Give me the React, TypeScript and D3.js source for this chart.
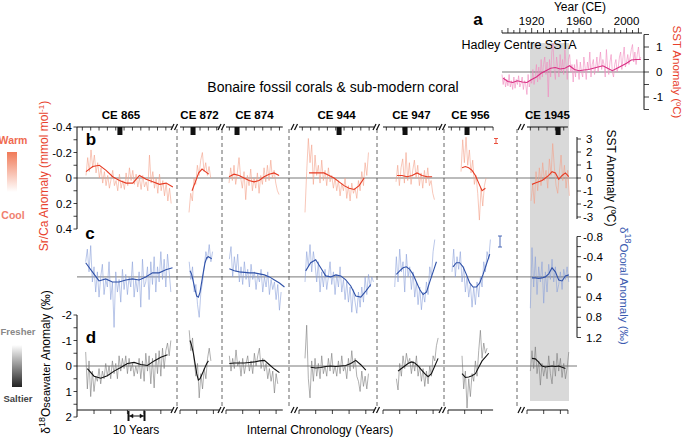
import React from "react";
import * as d3 from "d3";

// ---------------- DATA ----------------
const SEGMENTS = ["CE 865", "CE 872", "CE 874", "CE 944", "CE 947", "CE 956", "CE 1945"];
const SEG_LEN = [55.7, 23.4, 34, 45, 34, 27, 24.5]; // years of internal chronology axis
const SEG_MARK = [24.5, 7.8, 6.6, 24, 13.2, 11.4, 18.6]; // dated sample position (years)

// Sr/Ca anomaly (mmol/mol), raw (1 value / year) and smoothed
const SRCA_RAW_START = [4.2, 5.4, 1.8, 3.6, 7.8, 7.8, 2.4];
const SRCA_RAW = [
  [-0.02,-0.16,-0.05,-0.22,-0.08,-0.18,-0.04,-0.12,0.0,-0.08,0.04,-0.05,0.06,-0.02,0.08,0.01,-0.06,0.06,0.02,0.1,-0.03,0.08,0.02,0.09,-0.04,0.06,-0.08,0.02,-0.06,0.05,-0.03,0.07,0.0,0.09,-0.02,0.07,0.03,0.1,-0.18,0.04,-0.05,0.08,0.0,0.12,-0.03,0.1,0.02,0.14,0.04,0.18,0.08,0.2],
  [0.27,0.12,0.18,0.0,0.05,-0.1,-0.02,-0.14,-0.2,-0.05,-0.12,-0.02,-0.09,0.0],
  [0.04,-0.08,0.02,-0.1,0.05,-0.04,-0.16,0.0,0.08,-0.05,0.17,-0.02,0.06,-0.07,0.1,0.0,0.08,-0.04,0.12,-0.02,0.05,-0.08,0.03,-0.1,0.02,-0.14,0.0,-0.06,0.04,0.1,0.13],
  [0.27,-0.05,-0.31,-0.12,-0.26,0.05,-0.18,-0.02,-0.1,0.04,-0.14,0.02,-0.06,0.06,-0.08,0.03,-0.02,0.08,0.0,0.1,0.02,0.14,0.04,0.1,0.0,0.16,0.06,0.18,0.04,0.12,0.08,0.16,0.02,0.1,-0.05,0.06,-0.12,-0.02,-0.2],
  [0.03,-0.1,0.06,-0.08,-0.15,0.04,-0.2,0.02,-0.12,0.05,-0.06,-0.14,0.0,-0.1,0.06,-0.04,0.08,-0.06,0.04,-0.08,0.06,0.02,0.12,0.17],
  [-0.05,-0.3,-0.12,-0.32,-0.1,-0.22,-0.04,-0.14,0.05,-0.02,0.12,0.33,0.08,0.22,0.06,0.0],
  [0.18,0.05,0.2,-0.05,0.1,-0.08,0.06,-0.12,0.02,-0.06,0.08,-0.15,-0.02,-0.27,-0.08,0.06,0.12,-0.04,-0.18,0.02,-0.1,0.08,-0.06,0.14],
];
const SRCA_SM_START = [4.2, 7.2, 1.8, 6, 8.4, 8.4, 3];
const SRCA_SM_STEP = [4, 2, 3, 3, 3, 2, 2];
const SRCA_SM = [
  [-0.05,-0.09,-0.1,-0.06,-0.01,0.02,0.04,0.04,-0.02,0.01,0.03,0.05,0.04,0.07],
  [0.1,0.03,-0.04,-0.07,-0.05,-0.03],
  [-0.01,-0.03,-0.02,0.0,0.02,0.03,0.02,-0.01,-0.03,-0.04,-0.02],
  [-0.04,-0.04,-0.04,-0.04,-0.02,0.0,0.03,0.06,0.08,0.09,0.06,0.0],
  [-0.02,-0.02,-0.01,-0.02,-0.04,-0.02,-0.01,-0.01],
  [-0.08,-0.09,-0.08,-0.06,-0.02,0.04,0.1,0.08],
  [0.05,0.04,0.03,0.02,0.0,-0.02,-0.05,-0.04,0.01,-0.02,-0.04,-0.01],
];

// Coral d18O anomaly (permil)
const CORAL_RAW_START = [4, 5.5, 2, 3.6, 7, 2.4, 2];
const CORAL_RAW = [
  [-0.3,-0.55,-0.1,-0.62,0.1,-0.2,0.3,-0.1,0.4,0.0,-0.25,0.35,0.05,0.2,-0.3,0.45,0.1,1.0,-0.1,0.3,0.05,0.5,-0.15,0.25,-0.05,0.35,0.0,0.2,-0.3,0.4,0.05,0.3,-0.1,0.6,-0.35,0.2,0.1,-0.2,0.45,-0.3,0.15,-0.4,0.3,-0.2,0.1,-0.5,0.05,-0.35,0.2,-0.45,-0.1,0.3],
  [-0.3,0.05,-0.2,0.3,0.15,0.55,0.8,0.3,0.1,-0.2,-0.5,-0.35,-0.64,-0.3,-0.5],
  [-0.35,-0.6,0.0,-0.4,-0.1,-0.45,0.1,-0.2,0.15,-0.3,0.05,-0.15,0.2,-0.25,0.05,-0.1,0.25,-0.05,0.1,-0.15,0.3,0.0,0.2,-0.1,0.35,0.05,0.25,0.1,0.45,0.15,0.66,0.3],
  [0.1,-0.5,-0.2,-0.64,-0.1,-0.5,-0.25,0.1,-0.3,0.3,-0.1,0.2,-0.15,0.25,0.0,-0.3,0.15,-0.1,0.35,-0.05,0.2,-0.2,0.3,0.05,0.45,0.1,0.5,0.2,0.7,0.25,0.5,0.72,0.3,0.6,0.2,0.5,0.0,0.35,-0.05,0.2,0.0,0.1],
  [0.2,-0.4,0.1,-0.55,-0.1,-0.3,0.3,-0.45,0.0,-0.2,0.25,-0.1,0.4,0.1,0.55,0.2,0.65,0.3,0.5,0.1,0.35,-0.2,0.0,-0.5,-0.74],
  [-0.1,-0.55,0.0,-0.4,-0.15,-0.5,0.1,-0.2,0.3,0.0,0.4,0.15,0.6,0.2,0.55,0.1,0.4,0.0,0.2,-0.3,-0.1,-0.5,-0.35,-0.74],
  [0.62,-0.58,0.2,-0.4,0.35,-0.2,0.1,-0.3,0.52,-0.1,0.3,-0.25,0.05,-0.35,0.1,-0.2,0.3,0.15,-0.1,0.25,-0.15,0.05,-0.2,0.1],
];
const CORAL_SM_START = [4, 6, 2, 4, 8, 3, 3];
const CORAL_SM_STEP = [4, 1, 3, 3, 2, 2, 2];
const CORAL_SM = [
  [-0.28,-0.1,0.08,0.04,0.1,0.1,0.06,0.04,0.06,0.0,-0.08,-0.08,-0.14,-0.18],
  [-0.12,-0.05,0.1,0.25,0.38,0.4,0.3,0.1,-0.1,-0.28,-0.38,-0.4,-0.38,-0.36],
  [-0.16,-0.12,-0.1,-0.09,-0.08,-0.08,-0.06,-0.04,0.0,0.06,0.12,0.2],
  [-0.12,-0.28,-0.34,-0.18,-0.02,0.0,-0.04,-0.02,0.06,0.18,0.38,0.4,0.28,0.15],
  [-0.05,-0.12,-0.18,-0.2,-0.15,-0.05,0.1,0.25,0.35,0.3,0.1,-0.1,-0.3],
  [-0.2,-0.28,-0.28,-0.2,-0.05,0.12,0.2,0.2,0.12,-0.05,-0.25,-0.45],
  [0.02,0.02,0.03,0.02,0.0,-0.06,-0.18,-0.1,0.06,0.08,-0.02,-0.04],
];

// Seawater d18O anomaly (permil)
const SW_RAW_START = [4, 5.5, 2, 3.6, 8, 8.4, 2];
const SW_RAW = [
  [-0.55,0.9,-0.2,1.2,0.2,1.0,0.4,0.6,0.1,0.7,0.2,0.5,-0.1,0.4,0.0,0.5,-0.2,0.3,-0.1,0.5,-0.4,0.2,-0.3,0.1,-0.4,0.3,-0.3,0.2,-0.1,0.4,0.0,0.3,-0.3,0.5,-0.2,0.6,-0.5,0.2,-0.4,0.7,-0.3,0.86,-0.5,0.3,-0.6,0.4,-0.7,0.1,-0.6,-0.9,-0.4,-1.0],
  [-1.4,-0.6,-1.1,-0.2,0.4,-0.1,1.25,0.3,0.9,0.1,0.5,-0.3,-0.7,-0.2],
  [-0.4,0.2,-0.3,0.1,-0.63,0.0,-0.2,0.4,-0.3,0.3,-0.1,-0.4,0.2,-0.2,0.3,-0.5,0.0,-0.4,-0.7,0.1,-0.3,0.2,-0.1,0.5,0.1,0.6,0.2,1.06,0.3,0.7],
  [-0.3,-1.6,0.5,1.25,-0.2,0.6,-0.3,0.4,-0.1,0.5,-0.4,0.3,0.0,0.4,-0.3,0.2,-0.5,0.3,0.0,0.4,-0.2,0.3,-0.4,0.2,0.0,0.5,-0.3,0.2,-0.6,0.1,-0.3,0.4,0.6,1.0,0.2,0.8,0.4,0.9,0.3],
  [0.5,0.94,-0.1,0.4,-0.4,0.1,-0.5,-0.1,-0.3,0.3,-0.2,0.2,-0.4,0.4,0.0,0.6,0.1,0.8,0.2,0.7,0.0,0.4,-0.4,-0.2,-0.8,-1.1],
  [-0.4,0.9,0.2,1.65,0.5,1.2,0.3,0.6,-0.2,0.4,-0.6,-1.4,-0.3,-0.9,-0.5,-0.7],
  [0.2,-0.6,0.1,-0.75,0.3,-0.2,0.75,-0.1,0.4,0.0,0.5,-0.4,0.3,0.7,-0.2,0.4,-0.5,0.2,-0.3,0.45,-0.1,0.5,0.1,-0.55],
];
const SW_SM_START = [5, 6, 2, 7, 9, 8.4, 3];
const SW_SM_STEP = [4, 1, 3, 3, 2, 2, 2];
const SW_SM = [
  [0.1,0.4,0.48,0.38,0.2,0.06,-0.1,-0.14,-0.06,-0.02,-0.2,-0.34,-0.44],
  [-1.0,-0.8,-0.5,-0.1,0.3,0.55,0.5,0.35,0.2,0.05,-0.1,-0.2],
  [-0.1,-0.12,-0.12,-0.12,-0.14,-0.16,-0.2,-0.22,-0.05,0.12,0.26],
  [0.05,0.08,0.06,0.02,0.0,0.02,0.0,-0.02,-0.1,-0.22,-0.05,0.16],
  [0.2,0.1,0.0,-0.1,-0.16,-0.12,0.0,0.15,0.3,0.42,0.3,0.0,-0.3],
  [0.3,0.45,0.43,0.38,0.3,0.05,-0.2,-0.35,-0.5],
  [-0.3,-0.28,-0.15,0.0,0.04,0.02,0.0,0.02,0.0,0.05,0.1],
];

// Hadley Centre SSTA (degC)
const HAD_START = 1895;
const HAD_RAW = [
  -0.1,-0.5,-0.2,-0.6,-0.3,-0.55,-0.1,-0.6,-0.35,-0.7,
  -0.2,-0.65,-0.3,-0.5,-0.15,-0.6,-0.45,-0.2,-0.7,-0.35,
  -0.5,-0.9,-0.1,-0.6,-0.3,-0.45,0.1,-0.5,-0.2,0.3,
  -0.4,0.2,-0.3,0.5,-0.2,0.3,0.6,-0.1,0.4,-1.0,
  0.5,-0.2,0.8,1.15,0.1,-0.3,0.6,0.2,-0.2,0.7,
  0.0,0.5,-0.1,0.9,0.3,-0.3,0.5,0.7,0.0,0.3,
  -0.4,0.3,-0.2,0.5,0.1,-0.3,0.4,0.0,-0.2,0.6,
  0.2,-0.3,0.4,0.1,0.8,-0.2,0.3,0.5,-0.1,0.2,
  0.6,0.0,0.4,0.8,0.1,0.5,0.3,-0.2,0.9,0.2,
  -0.1,0.4,0.7,0.0,-0.2,0.3,0.5,0.0,0.2,0.6,
  0.8,0.1,0.6,1.0,0.2,0.4,0.7,0.3,0.6,0.9,
  1.1,0.4,0.8,0.3,0.7,1.0,0.5,0.6,
];
const HAD_SM_START = 1896;
const HAD_SM_STEP = 4;
const HAD_SM = [-0.25,-0.38,-0.42,-0.35,-0.4,-0.42,-0.3,-0.2,-0.05,0.05,0.15,0.18,0.12,0.15,0.25,0.1,0.05,0.08,0.1,0.15,0.2,0.25,0.15,0.05,0.15,0.25,0.35,0.48,0.5,0.5];
const HAD_YEAR_LABELS = [1920, 1960, 2000];

const SRCA_TICKS = [-0.4,-0.3,-0.2,-0.1,0,0.1,0.2,0.3,0.4];
const SST_TICKS = [-3,-2,-1,0,1,2,3];
const CORAL_TICKS = [-0.8,-0.6,-0.4,-0.2,0,0.2,0.4,0.6,0.8,1.0,1.2];
const SW_TICKS = [-2,-1.5,-1,-0.5,0,0.5,1,1.5,2];
const HAD_TICKS = [-1.5,-1,-0.5,0,0.5,1,1.5];

// ---------------- LAYOUT ----------------
const W = 685, H = 437;
const FONT = "'Liberation Sans', Arial, Helvetica, sans-serif";
const K = 1.67;
const SEG_X = [79, 180, 226, 299, 383, 448, 527];
const BREAKS = [175, 222, 295, 377, 443, 522];
const DASHES = [177, 222, 289, 377, 444, 517];
const TOP_Y = 127, BOT_Y = 410;
const LEFT_X = 77, RIGHT_X = 577;

const ySr = d3.scaleLinear().domain([-0.4, 0.4]).range([127, 229]);
const ySST = d3.scaleLinear().domain([-3, 3]).range([217, 139]);
const yCoral = d3.scaleLinear().domain([-0.8, 1.2]).range([236.5, 337.5]);
const ySw = d3.scaleLinear().domain([-2, 2]).range([315, 417]);
const xH = d3.scaleLinear().domain([1895, 2013]).range([502, 642]);
const yH = d3.scaleLinear().domain([-1.5, 1.5]).range([109.5, 34.5]);

const xSeg = (i: number) =>
  d3.scaleLinear().domain([0, SEG_LEN[i]]).range([SEG_X[i], SEG_X[i] + SEG_LEN[i] * K]);

function path(i: number, start: number, step: number, vals: number[], y: d3.ScaleLinear<number, number>) {
  const x = xSeg(i);
  return d3.line<number>().x((_, j) => x(start + j * step)).y((v) => y(v))(vals) || "";
}

const fmt = (v: number) => (Math.abs(v) < 1e-9 ? "0" : String(Math.round(v * 10) / 10));

function Brk({ x, y }: { x: number; y: number }) {
  return (
    <g stroke="#111" strokeWidth={1.3}>
      <line x1={x - 4} y1={y + 3} x2={x - 1} y2={y - 3} />
      <line x1={x - 0.5} y1={y + 3} x2={x + 2.5} y2={y - 3} />
    </g>
  );
}

function Panel({ raw, rawStart, sm, smStart, smStep, y, rawColor, smColor }: any) {
  return (
    <g fill="none">
      {raw.map((vals: number[], i: number) => (
        <path key={"r" + i} d={path(i, rawStart[i], 1, vals, y)} stroke={rawColor} strokeWidth={0.7} strokeOpacity={0.85} />
      ))}
      {sm.map((vals: number[], i: number) => (
        <path key={"s" + i} d={path(i, smStart[i], smStep[i], vals, y)} stroke={smColor} strokeWidth={1.1} />
      ))}
    </g>
  );
}

export default function App() {
  const hadRawPath = d3.line<number>().x((_, j) => xH(HAD_START + j)).y((v) => yH(v))(HAD_RAW) || "";
  const hadSmPath = d3.line<number>().x((_, j) => xH(HAD_SM_START + j * HAD_SM_STEP)).y((v) => yH(v))(HAD_SM) || "";
  const hadTicks = d3.range(1895, 2014, 5);

  return (
    <div style={{ position: "absolute", left: 0, top: 0 }}>
      <svg width={W} height={H} style={{ display: "block", fontFamily: FONT }}>
        <defs>
          <linearGradient id="warm" x1="0" y1="0" x2="0" y2="1">
            <stop offset="0" stopColor="#f07a58" />
            <stop offset="1" stopColor="#ffffff" />
          </linearGradient>
          <linearGradient id="salt" x1="0" y1="0" x2="0" y2="1">
            <stop offset="0" stopColor="#ffffff" />
            <stop offset="1" stopColor="#222" />
          </linearGradient>
        </defs>
        <rect width={W} height={H} fill="#fff" />
        {/* gray shading for modern period */}
        <rect x={530} y={43} width={39} height={358} fill="#d9d9d9" />

        {/* ---------- Panel a: Hadley ---------- */}
        <text x={580} y={11} fontSize={12} textAnchor="middle">Year (CE)</text>
        <text x={478} y={25} fontSize={17} fontWeight="bold" textAnchor="middle">a</text>
        {HAD_YEAR_LABELS.map((yr) => (
          <text key={yr} x={xH(yr)} y={25} fontSize={11.5} textAnchor="middle">{yr}</text>
        ))}
        <line x1={xH(1895)} x2={xH(2013)} y1={33} y2={33} stroke="#111" strokeWidth={1} />
        {hadTicks.map((t) => (
          <line key={t} x1={xH(t)} x2={xH(t)} y1={33} y2={t % 10 === 0 ? 28 : 30} stroke="#111" strokeWidth={0.8} />
        ))}
        <text x={519} y={49} fontSize={12.5} textAnchor="middle">Hadley Centre SSTA</text>
        <line x1={502} x2={644} y1={yH(0)} y2={yH(0)} stroke="#555" strokeWidth={0.8} />
        <path d={hadRawPath} fill="none" stroke="#f08cc0" strokeWidth={0.7} strokeOpacity={0.9} />
        <path d={hadSmPath} fill="none" stroke="#d92e83" strokeWidth={1.1} />
        <line x1={644} x2={644} y1={yH(1.5)} y2={yH(-1.5)} stroke="#111" strokeWidth={1} />
        {HAD_TICKS.map((t) => (
          <g key={t}>
            <line x1={644} x2={649} y1={yH(t)} y2={yH(t)} stroke="#111" strokeWidth={0.8} />
            {Number.isInteger(t) && (
              <text x={t < 0 ? 653 : 656} y={yH(t) + 4} fontSize={11.5}>{fmt(t)}</text>
            )}
          </g>
        ))}
        <text transform={`translate(673,72) rotate(90)`} fontSize={11.5} fill="#e8412c" textAnchor="middle">SST Anomaly (ºC)</text>

        {/* ---------- Title & segment labels ---------- */}
        <text x={333} y={92} fontSize={14} textAnchor="middle">Bonaire fossil corals &amp; sub-modern coral</text>
        {SEGMENTS.map((s, i) => {
          const x = xSeg(i);
          const cx = i === 0 ? 121 : (x(0) + x(SEG_LEN[i])) / 2;
          return (
            <text key={s} x={cx} y={119} fontSize={11.5} fontWeight="bold" textAnchor="middle">{s}</text>
          );
        })}

        {/* dashed separators */}
        {DASHES.map((x) => (
          <line key={x} x1={x} x2={x} y1={TOP_Y + 2} y2={BOT_Y - 2} stroke="#555" strokeWidth={0.9} strokeDasharray="4,3" />
        ))}

        {/* top axes */}
        {SEGMENTS.map((s, i) => {
          const x = xSeg(i);
          const ticks = d3.range(2, SEG_LEN[i] + 0.01, 5);
          return (
            <g key={"top" + s}>
              <line x1={i === 0 ? LEFT_X : x(0)} x2={x(SEG_LEN[i])} y1={TOP_Y} y2={TOP_Y} stroke="#111" strokeWidth={1} />
              {ticks.map((t) => (
                <line key={t} x1={x(t)} x2={x(t)} y1={TOP_Y} y2={TOP_Y + 3.5} stroke="#111" strokeWidth={0.8} />
              ))}
              <rect x={x(SEG_MARK[i]) - 2.5} y={TOP_Y} width={5} height={8} fill="#111" />
            </g>
          );
        })}
        {BREAKS.map((x) => <Brk key={"bt" + x} x={x} y={TOP_Y} />)}

        {/* bottom axes */}
        {SEGMENTS.map((s, i) => {
          const x = xSeg(i);
          const ticks = d3.range(i === 0 ? 9 : 0, SEG_LEN[i] + 0.01, 10);
          return (
            <g key={"bot" + s}>
              <line x1={i === 0 ? LEFT_X : x(0)} x2={x(SEG_LEN[i])} y1={BOT_Y} y2={BOT_Y} stroke="#111" strokeWidth={1} />
              {ticks.map((t) => (
                <line key={t} x1={x(t)} x2={x(t)} y1={BOT_Y} y2={BOT_Y + 4} stroke="#111" strokeWidth={0.8} />
              ))}
              {i === SEGMENTS.length - 1 && (
                <line x1={x(SEG_LEN[i])} x2={x(SEG_LEN[i])} y1={BOT_Y} y2={BOT_Y + 4} stroke="#111" strokeWidth={0.8} />
              )}
            </g>
          );
        })}
        {BREAKS.map((x) => <Brk key={"bb" + x} x={x} y={BOT_Y} />)}

        {/* zero lines */}
        <line x1={LEFT_X} x2={RIGHT_X} y1={ySr(0)} y2={ySr(0)} stroke="#555" strokeWidth={0.8} />
        <line x1={LEFT_X} x2={RIGHT_X} y1={yCoral(0)} y2={yCoral(0)} stroke="#555" strokeWidth={0.8} />
        <line x1={LEFT_X} x2={RIGHT_X} y1={ySw(0)} y2={ySw(0)} stroke="#555" strokeWidth={0.8} />

        {/* series */}
        <Panel raw={SRCA_RAW} rawStart={SRCA_RAW_START} sm={SRCA_SM} smStart={SRCA_SM_START} smStep={SRCA_SM_STEP} y={ySr} rawColor="#f4a088" smColor="#e63a22" />
        <Panel raw={CORAL_RAW} rawStart={CORAL_RAW_START} sm={CORAL_SM} smStart={CORAL_SM_START} smStep={CORAL_SM_STEP} y={yCoral} rawColor="#8aa0da" smColor="#2f51a8" />
        <Panel raw={SW_RAW} rawStart={SW_RAW_START} sm={SW_SM} smStart={SW_SM_START} smStep={SW_SM_STEP} y={ySw} rawColor="#7a7a7a" smColor="#111" />

        {/* error bars */}
        <g stroke="#e8412c" strokeWidth={0.9}>
          <line x1={496} x2={496} y1={138.5} y2={143.5} />
          <line x1={494} x2={498} y1={138.5} y2={138.5} />
          <line x1={494} x2={498} y1={143.5} y2={143.5} />
        </g>
        <g stroke="#3b5bb0" strokeWidth={0.9}>
          <line x1={500} x2={500} y1={236} y2={247} />
          <line x1={498} x2={502} y1={236} y2={236} />
          <line x1={498} x2={502} y1={247} y2={247} />
        </g>

        {/* left axis b */}
        <line x1={LEFT_X} x2={LEFT_X} y1={ySr(-0.4)} y2={ySr(0.4)} stroke="#111" strokeWidth={1} />
        {SRCA_TICKS.map((t) => (
          <g key={"sr" + t}>
            <line x1={LEFT_X - 3.5} x2={LEFT_X} y1={ySr(t)} y2={ySr(t)} stroke="#111" strokeWidth={0.8} />
            {Math.round(t * 10) % 2 === 0 && (
              <text x={LEFT_X - 5} y={ySr(t) + 4} fontSize={11.5} textAnchor="end">{fmt(t)}</text>
            )}
          </g>
        ))}
        {/* left axis d */}
        <line x1={LEFT_X} x2={LEFT_X} y1={ySw(-2)} y2={ySw(2)} stroke="#111" strokeWidth={1} />
        {SW_TICKS.map((t) => (
          <g key={"sw" + t}>
            <line x1={LEFT_X - 3.5} x2={LEFT_X} y1={ySw(t)} y2={ySw(t)} stroke="#111" strokeWidth={0.8} />
            {Number.isInteger(t) && (
              <text x={LEFT_X - 5} y={ySw(t) + 4} fontSize={11.5} textAnchor="end">{fmt(t)}</text>
            )}
          </g>
        ))}
        {/* right axis SST */}
        <line x1={RIGHT_X} x2={RIGHT_X} y1={ySST(3) - 2} y2={ySST(-3) + 2} stroke="#111" strokeWidth={1} />
        {SST_TICKS.map((t) => (
          <g key={"sst" + t}>
            <line x1={RIGHT_X} x2={RIGHT_X + 4} y1={ySST(t)} y2={ySST(t)} stroke="#111" strokeWidth={0.8} />
            <text x={t < 0 ? RIGHT_X + 6 : RIGHT_X + 9} y={ySST(t) + 4} fontSize={11.5}>{fmt(t)}</text>
          </g>
        ))}
        {/* right axis coral */}
        <line x1={RIGHT_X} x2={RIGHT_X} y1={yCoral(-0.8)} y2={yCoral(1.2)} stroke="#111" strokeWidth={1} />
        {CORAL_TICKS.map((t) => {
          const lab = Math.round(t * 10) % 4 === 0;
          return (
            <g key={"co" + t}>
              <line x1={RIGHT_X} x2={RIGHT_X + 4} y1={yCoral(t)} y2={yCoral(t)} stroke="#111" strokeWidth={0.8} />
              {lab && (
                <text x={t < 0 ? RIGHT_X + 6 : RIGHT_X + 9} y={yCoral(t) + 4} fontSize={11.5}>{fmt(t)}</text>
              )}
            </g>
          );
        })}

        {/* panel letters */}
        <text x={91} y={145} fontSize={17} fontWeight="bold" textAnchor="middle">b</text>
        <text x={90} y={239} fontSize={17} fontWeight="bold" textAnchor="middle">c</text>
        <text x={91} y={343} fontSize={17} fontWeight="bold" textAnchor="middle">d</text>

        {/* axis titles */}
        <text transform="translate(48,176) rotate(-90)" fontSize={12} fill="#e8412c" textAnchor="middle">
          Sr/Ca Anomaly (mmol mol<tspan dy={-4} fontSize={8}>-1</tspan><tspan dy={4}>)</tspan>
        </text>
        <text transform="translate(607,178) rotate(90)" fontSize={12} textAnchor="middle">SST Anomaly (ºC)</text>
        <text transform="translate(620,286) rotate(90)" fontSize={11.5} fill="#3b5bb0" textAnchor="middle">
          δ<tspan dy={-5} fontSize={9}>18</tspan><tspan dy={5}>O</tspan><tspan fontSize={10.5}>coral</tspan> Anomaly (‰)
        </text>
        <text transform="translate(50,362) rotate(-90)" fontSize={12} textAnchor="middle">
          δ<tspan dy={-5} fontSize={9}>18</tspan><tspan dy={5}>O</tspan><tspan fontSize={11}>seawater</tspan> Anomaly (‰)
        </text>

        {/* warm/cool legend */}
        <text x={13} y={144} fontSize={10.5} fontWeight="bold" fill="#ef6a50" textAnchor="middle">Warm</text>
        <rect x={7} y={152} width={10} height={40} fill="url(#warm)" />
        <text x={13} y={219} fontSize={10.5} fontWeight="bold" fill="#f08070" textAnchor="middle">Cool</text>
        {/* fresher/saltier legend */}
        <text x={18} y={335} fontSize={9.5} fontWeight="bold" fill="#888" textAnchor="middle">Fresher</text>
        <rect x={12} y={345} width={10} height={42} fill="url(#salt)" />
        <text x={18} y={402} fontSize={9.5} fontWeight="bold" fill="#444" textAnchor="middle">Saltier</text>

        {/* 10 year bracket */}
        <g stroke="#111">
          <line x1={128} x2={145} y1={416} y2={416} strokeWidth={1} />
          <line x1={128.5} x2={128.5} y1={411} y2={421} strokeWidth={2} />
          <line x1={144.5} x2={144.5} y1={411} y2={421} strokeWidth={2} />
          <path d="M130,416 L133,414 L133,418 Z M143,416 L140,414 L140,418 Z" fill="#111" strokeWidth={0.5} />
        </g>
        <text x={136} y={434} fontSize={12} textAnchor="middle">10 Years</text>
        <text x={320} y={434} fontSize={12} textAnchor="middle">Internal Chronology (Years)</text>
      </svg>
    </div>
  );
}
